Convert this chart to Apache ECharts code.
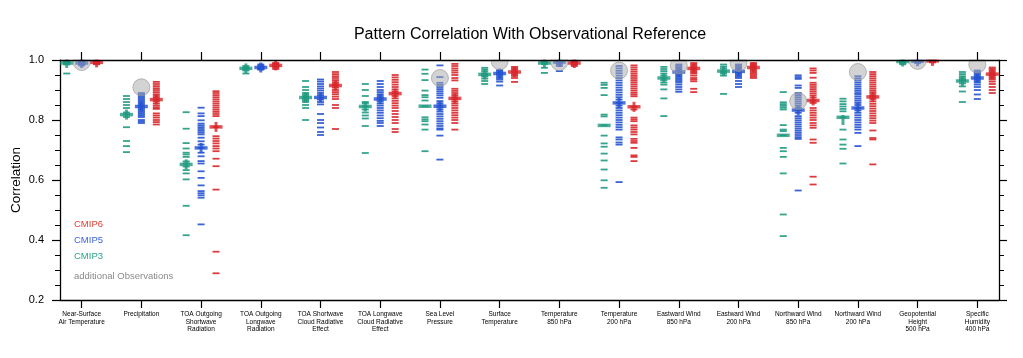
<!DOCTYPE html>
<html><head><meta charset="utf-8">
<script src="https://cdn.jsdelivr.net/npm/echarts@6/dist/echarts.min.js"></script>
<style>html,body{margin:0;padding:0;background:#fff}#c{width:1023px;height:358px}</style>
</head><body><div id="c"></div>
<script>
const categories = [
  "Near-Surface\nAir Temperature", "Precipitation", "TOA Outgoing\nShortwave\nRadiation",
  "TOA Outgoing\nLongwave\nRadiation", "TOA Shortwave\nCloud Radiative\nEffect",
  "TOA Longwave\nCloud Radiative\nEffect", "Sea Level\nPressure", "Surface\nTemperature",
  "Temperature\n850 hPa", "Temperature\n200 hPa", "Eastward Wind\n850 hPa", "Eastward Wind\n200 hPa",
  "Northward Wind\n850 hPa", "Northward Wind\n200 hPa", "Geopotential\nHeight\n500 hPa",
  "Specific\nHumidity\n400 hPa"
];
const yTicks = [0.2, 0.4, 0.6, 0.8, 1.0];

// individual models, CMIP3
const cmip3 = [
  [0.995, 0.993, 0.99, 0.988, 0.985, 0.955],
  [0.88, 0.87, 0.86, 0.85, 0.84, 0.825, 0.818, 0.81, 0.776, 0.73, 0.713, 0.693],
  [0.826, 0.771, 0.723, 0.705, 0.691, 0.685, 0.677, 0.662, 0.655, 0.645, 0.633, 0.622, 0.602, 0.514, 0.416],
  [0.98, 0.975, 0.972, 0.97, 0.965, 0.955],
  [0.93, 0.91, 0.9, 0.89, 0.885, 0.88, 0.875, 0.87, 0.865, 0.86, 0.85, 0.84, 0.80],
  [0.92, 0.9, 0.88, 0.86, 0.855, 0.845, 0.835, 0.825, 0.815, 0.805, 0.78, 0.69],
  [0.968, 0.954, 0.933, 0.898, 0.883, 0.876, 0.865, 0.846, 0.809, 0.802, 0.796, 0.785, 0.768, 0.696],
  [0.974, 0.968, 0.962, 0.955, 0.95, 0.945, 0.938, 0.93, 0.92],
  [0.995, 0.993, 0.99, 0.986, 0.974, 0.957],
  [0.924, 0.917, 0.907, 0.883, 0.818, 0.812, 0.782, 0.748, 0.722, 0.711, 0.688, 0.665, 0.635, 0.599, 0.574],
  [0.977, 0.97, 0.963, 0.955, 0.948, 0.94, 0.933, 0.925, 0.918, 0.902, 0.872, 0.813],
  [0.985, 0.978, 0.972, 0.965, 0.96, 0.955, 0.948, 0.887],
  [0.893, 0.859, 0.853, 0.847, 0.841, 0.835, 0.783, 0.768, 0.763, 0.749, 0.707, 0.696, 0.677, 0.622, 0.485, 0.413],
  [0.871, 0.862, 0.853, 0.845, 0.837, 0.829, 0.809, 0.768, 0.735, 0.718, 0.704, 0.655],
  [0.998, 0.996, 0.994, 0.992, 0.99, 0.986],
  [0.96, 0.953, 0.946, 0.94, 0.935, 0.93, 0.922, 0.912, 0.895, 0.86]
];
// individual models, CMIP5
const cmip5 = [
  [0.998, 0.995, 0.993, 0.99, 0.988, 0.985, 0.982],
  [0.89, 0.885, 0.88, 0.875, 0.87, 0.865, 0.86, 0.855, 0.85, 0.845, 0.84, 0.835, 0.83, 0.825, 0.82, 0.815, 0.81, 0.80, 0.795, 0.79],
  [0.841, 0.822, 0.813, 0.799, 0.788, 0.782, 0.776, 0.77, 0.764, 0.758, 0.752, 0.741, 0.729, 0.718, 0.707, 0.691, 0.679, 0.663, 0.655, 0.629, 0.607, 0.582, 0.563, 0.556, 0.549, 0.541, 0.452],
  [0.985, 0.98, 0.978, 0.975, 0.972, 0.97, 0.968],
  [0.935, 0.928, 0.92, 0.912, 0.905, 0.898, 0.89, 0.883, 0.875, 0.868, 0.86, 0.852, 0.82, 0.80, 0.79, 0.775, 0.76, 0.75],
  [0.93, 0.92, 0.91, 0.9, 0.893, 0.886, 0.88, 0.874, 0.868, 0.862, 0.855, 0.848, 0.84, 0.832, 0.824, 0.815, 0.806, 0.797, 0.79, 0.78],
  [0.982, 0.943, 0.924, 0.917, 0.91, 0.903, 0.896, 0.889, 0.882, 0.874, 0.863, 0.856, 0.849, 0.842, 0.835, 0.828, 0.82, 0.812, 0.804, 0.796, 0.788, 0.78, 0.772, 0.768, 0.748, 0.668],
  [0.966, 0.962, 0.958, 0.954, 0.95, 0.945, 0.94, 0.935, 0.928, 0.915],
  [0.998, 0.995, 0.993, 0.99, 0.986, 0.98, 0.963],
  [0.98, 0.972, 0.964, 0.956, 0.948, 0.94, 0.932, 0.924, 0.916, 0.908, 0.9, 0.892, 0.884, 0.876, 0.868, 0.857, 0.848, 0.84, 0.832, 0.824, 0.816, 0.808, 0.8, 0.792, 0.784, 0.776, 0.768, 0.742, 0.735, 0.725, 0.718, 0.593],
  [0.985, 0.98, 0.975, 0.97, 0.965, 0.96, 0.955, 0.95, 0.945, 0.94, 0.935, 0.93, 0.925, 0.918, 0.91, 0.902, 0.894],
  [0.985, 0.98, 0.975, 0.97, 0.965, 0.96, 0.955, 0.95, 0.945, 0.94, 0.93, 0.92, 0.91],
  [0.949, 0.943, 0.937, 0.915, 0.907, 0.89, 0.883, 0.876, 0.869, 0.862, 0.855, 0.848, 0.841, 0.833, 0.824, 0.813, 0.806, 0.799, 0.792, 0.785, 0.778, 0.771, 0.764, 0.757, 0.75, 0.743, 0.737, 0.565],
  [0.946, 0.939, 0.932, 0.925, 0.918, 0.911, 0.904, 0.897, 0.89, 0.885, 0.878, 0.871, 0.864, 0.857, 0.85, 0.84, 0.832, 0.824, 0.816, 0.808, 0.8, 0.792, 0.784, 0.776, 0.768, 0.757, 0.713],
  [0.999, 0.997, 0.995, 0.993, 0.99],
  [0.965, 0.96, 0.955, 0.95, 0.945, 0.94, 0.935, 0.93, 0.925, 0.918, 0.91, 0.9, 0.885, 0.87]
];
// individual models, CMIP6
const cmip6 = [
  [0.998, 0.996, 0.994, 0.992, 0.99, 0.988, 0.986],
  [0.927, 0.92, 0.913, 0.906, 0.9, 0.893, 0.886, 0.88, 0.874, 0.868, 0.862, 0.855, 0.848, 0.842, 0.837, 0.822, 0.815, 0.808, 0.80, 0.793, 0.785],
  [0.896, 0.89, 0.883, 0.876, 0.869, 0.862, 0.855, 0.848, 0.841, 0.834, 0.827, 0.82, 0.813, 0.777, 0.746, 0.738, 0.73, 0.722, 0.713, 0.705, 0.696, 0.671, 0.646, 0.568, 0.361, 0.289],
  [0.99, 0.988, 0.985, 0.982, 0.98, 0.978, 0.975, 0.97],
  [0.96, 0.953, 0.946, 0.94, 0.933, 0.926, 0.92, 0.915, 0.908, 0.9, 0.893, 0.886, 0.878, 0.87, 0.85, 0.84, 0.77],
  [0.95, 0.942, 0.934, 0.926, 0.918, 0.91, 0.902, 0.895, 0.888, 0.88, 0.872, 0.864, 0.856, 0.848, 0.84, 0.83, 0.82, 0.81, 0.8, 0.79, 0.77, 0.76],
  [0.987, 0.98, 0.972, 0.965, 0.958, 0.95, 0.94, 0.932, 0.904, 0.897, 0.89, 0.883, 0.876, 0.869, 0.862, 0.855, 0.848, 0.84, 0.832, 0.824, 0.816, 0.808, 0.8, 0.79, 0.768],
  [0.977, 0.972, 0.967, 0.962, 0.957, 0.952, 0.947, 0.94, 0.927],
  [0.998, 0.996, 0.994, 0.992, 0.99, 0.987, 0.984, 0.98],
  [0.982, 0.975, 0.968, 0.961, 0.954, 0.947, 0.94, 0.933, 0.926, 0.919, 0.912, 0.905, 0.898, 0.891, 0.885, 0.879, 0.844, 0.835, 0.808, 0.802, 0.796, 0.782, 0.775, 0.768, 0.76, 0.752, 0.737, 0.73, 0.724, 0.707, 0.682, 0.677, 0.663],
  [0.99, 0.985, 0.98, 0.975, 0.97, 0.965, 0.96, 0.955, 0.948, 0.94, 0.935, 0.929, 0.904, 0.893],
  [0.99, 0.986, 0.982, 0.978, 0.974, 0.97, 0.965, 0.96, 0.955, 0.95, 0.945, 0.94],
  [0.972, 0.965, 0.957, 0.941, 0.924, 0.917, 0.91, 0.903, 0.896, 0.889, 0.882, 0.875, 0.865, 0.857, 0.84, 0.832, 0.824, 0.816, 0.808, 0.8, 0.79, 0.782, 0.774, 0.735, 0.724, 0.611, 0.585],
  [0.96, 0.953, 0.946, 0.939, 0.932, 0.925, 0.918, 0.911, 0.904, 0.897, 0.89, 0.883, 0.877, 0.87, 0.862, 0.854, 0.846, 0.838, 0.83, 0.822, 0.814, 0.806, 0.798, 0.79, 0.765, 0.74, 0.735, 0.652],
  [0.999, 0.998, 0.996, 0.994, 0.992],
  [0.975, 0.97, 0.965, 0.96, 0.955, 0.95, 0.945, 0.94, 0.935, 0.928, 0.92, 0.91, 0.9, 0.89]
];
// ensemble medians (long dash) and means (vertical bar)
const median3 = [0.99, 0.818, 0.652, 0.972, 0.875, 0.845, 0.846, 0.952, 0.99, 0.782, 0.94, 0.963, 0.749, 0.809, 0.995, 0.93];
const median5 = [0.99, 0.845, 0.707, 0.975, 0.875, 0.87, 0.846, 0.955, 0.993, 0.857, 0.96, 0.962, 0.833, 0.84, 0.996, 0.94];
const median6 = [0.992, 0.868, 0.777, 0.982, 0.915, 0.888, 0.872, 0.96, 0.99, 0.844, 0.972, 0.975, 0.865, 0.877, 0.997, 0.953];
const mean3 = [0.99, 0.818, 0.652, 0.972, 0.875, 0.845, null, 0.952, 0.99, null, 0.94, 0.963, null, 0.80, 0.995, 0.93];
const mean5 = [0.99, 0.845, 0.707, 0.975, 0.875, 0.87, 0.846, 0.955, 0.993, 0.857, 0.96, 0.962, 0.833, 0.84, 0.996, 0.94];
const mean6 = [0.992, 0.868, 0.777, 0.982, 0.915, 0.888, 0.872, 0.96, 0.99, 0.844, 0.972, 0.975, 0.865, 0.877, 0.997, 0.953];
// additional observations
const observations = [0.993, 0.909, null, null, null, null, 0.94, 0.996, 0.993, 0.965, 0.982, 0.99, 0.863, 0.96, 0.997, 0.985];

const FONT = "'Liberation Sans', Arial, Helvetica, sans-serif";
const groups = [
  { name: 'CMIP3', vals: cmip3, med: median3, mean: mean3, off: -0.25, color: '#1f9a80' },
  { name: 'CMIP5', vals: cmip5, med: median5, mean: mean5, off: 0, color: '#2352d2' },
  { name: 'CMIP6', vals: cmip6, med: median6, mean: mean6, off: 0.25, color: '#d8262a' }
];
const catIdx = categories.map((c, i) => i);
const series = [];
groups.forEach(g => {
  const dashes = [];
  g.vals.forEach((arr, i) => arr.forEach(v => dashes.push([i + g.off, v])));
  series.push({ type: 'scatter', name: g.name, data: dashes, symbol: 'rect', symbolSize: [7, 1.8],
    itemStyle: { color: g.color, opacity: 0.9 }, z: 2, silent: true, animation: false });
  series.push({ type: 'scatter', data: g.med.map((v, i) => [i + g.off, v]), symbol: 'rect', symbolSize: [13, 3.5],
    itemStyle: { color: g.color }, z: 3, silent: true, animation: false });
  series.push({ type: 'scatter', data: g.mean.map((v, i) => v == null ? null : [i + g.off, v]).filter(d => d), symbol: 'rect', symbolSize: [3, 10],
    itemStyle: { color: g.color }, z: 3, silent: true, animation: false });
});
series.push({ type: 'scatter', data: observations.map((v, i) => v == null ? null : [i, v]).filter(d => d),
  symbol: 'circle', symbolSize: 17,
  itemStyle: { color: 'rgba(170,170,170,0.65)', borderColor: 'rgba(150,150,150,0.8)', borderWidth: 1 },
  z: 4, silent: true, animation: false });

const axisLineStyle = { color: '#000', width: 1.3 };
const xBase = {
  type: 'value', min: -0.363, max: 15.363,
  axisLine: { show: true, onZero: false, lineStyle: axisLineStyle },
  axisTick: { show: true, customValues: catIdx, length: 8, inside: false, lineStyle: { color: '#000', width: 1.2 } },
  splitLine: { show: false }
};
const yBase = {
  type: 'value', min: 0.2, max: 1.0, interval: 0.2,
  axisLine: { show: true, onZero: false, lineStyle: axisLineStyle },
  axisTick: { show: true, length: 8, inside: false, lineStyle: { color: '#000', width: 1.2 } },
  minorTick: { show: true, splitNumber: 4, length: 5, lineStyle: { color: '#000', width: 1 } },
  splitLine: { show: false }, minorSplitLine: { show: false }
};

const chart = echarts.init(document.getElementById('c'), null, { renderer: 'canvas' });
chart.setOption({
  animation: false,
  backgroundColor: '#fff',
  grid: { left: 60, right: 24, top: 60, height: 240 },
  xAxis: [
    Object.assign({}, xBase, { position: 'bottom',
      axisLabel: { show: true, customValues: catIdx, formatter: v => categories[Math.round(v)],
        fontSize: 6.5, lineHeight: 7.3, margin: 11, color: '#000', fontFamily: FONT, align: 'center' } }),
    Object.assign({}, xBase, { position: 'top', z: 60, axisLabel: { show: false } })
  ],
  yAxis: [
    Object.assign({}, yBase, { position: 'left',
      axisLabel: { show: true, customValues: yTicks, formatter: v => v.toFixed(1), fontSize: 11, margin: 16, color: '#000', fontFamily: FONT } }),
    Object.assign({}, yBase, { position: 'right', axisLabel: { show: false } })
  ],
  graphic: [
    { type: 'rect', shape: { x: 60, y: 0, width: 940, height: 59.4 }, style: { fill: '#fff' }, z: 50, silent: true },
    { type: 'text', x: 530, y: 35, z: 100, style: { text: 'Pattern Correlation With Observational Reference', font: '16px ' + FONT, fill: '#000', align: 'center', verticalAlign: 'middle' } },
    { type: 'text', x: 16, y: 180, rotation: Math.PI / 2, z: 100, style: { text: 'Correlation', font: '13.5px ' + FONT, fill: '#000', align: 'center', verticalAlign: 'middle' } },
    { type: 'text', x: 74, y: 224.5, z: 100, style: { text: 'CMIP6', font: '9.5px ' + FONT, fill: '#e03a32', verticalAlign: 'middle' } },
    { type: 'text', x: 74, y: 240.5, z: 100, style: { text: 'CMIP5', font: '9.5px ' + FONT, fill: '#3c5fe0', verticalAlign: 'middle' } },
    { type: 'text', x: 74, y: 256.5, z: 100, style: { text: 'CMIP3', font: '9.5px ' + FONT, fill: '#2aa58c', verticalAlign: 'middle' } },
    { type: 'text', x: 74, y: 276, z: 100, style: { text: 'additional Observations', font: '9.5px ' + FONT, fill: '#8a8a8a', verticalAlign: 'middle' } }
  ],
  series: series
});
</script></body></html>
